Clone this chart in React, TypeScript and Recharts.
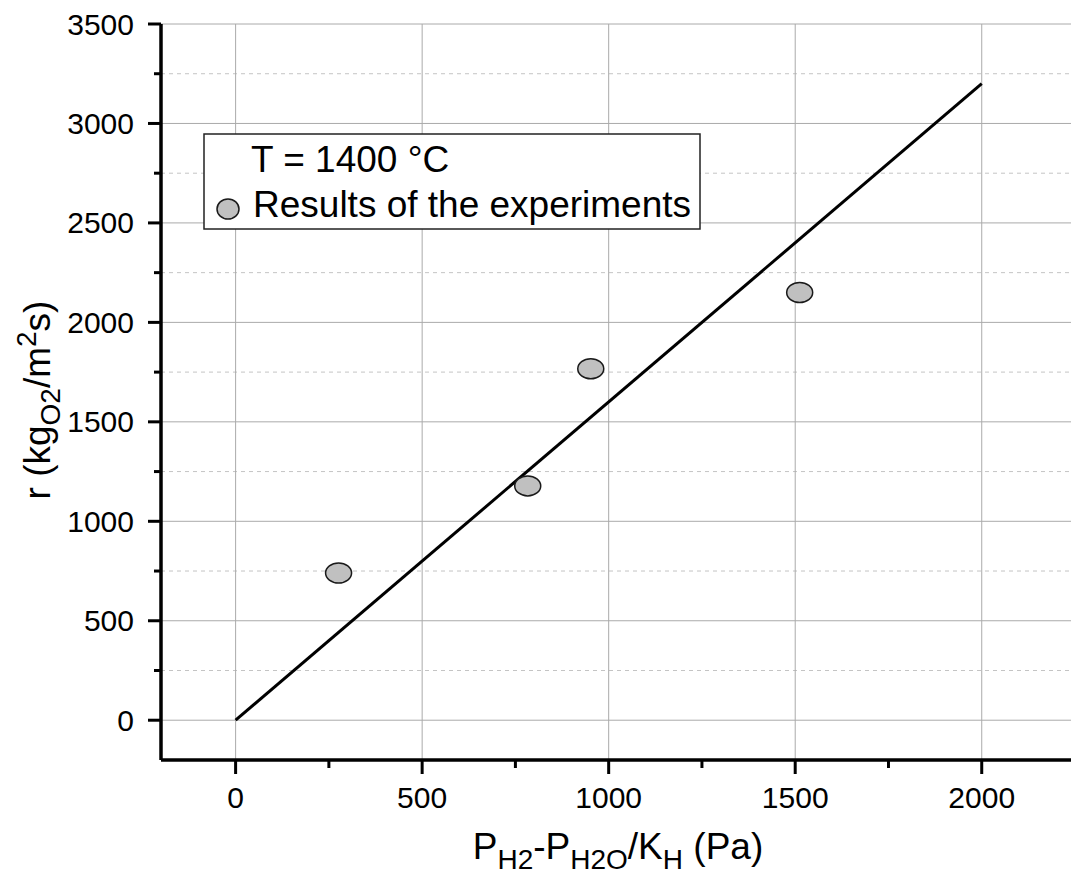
import React from 'react';
import { ComposedChart, XAxis, YAxis, Line, Scatter, ReferenceLine } from 'recharts';

// ---- data ----
const expX = [276, 783, 952, 1512];
const expY = [740, 1178, 1767, 2150];
const fitX = [0, 2000];
const fitY = [0, 3200];
const xMajorTicks = [0, 500, 1000, 1500, 2000];
const xMinorTicks = [250, 750, 1250, 1750];
const yMajorTicks = [0, 500, 1000, 1500, 2000, 2500, 3000, 3500];
const yMinorTicks = [250, 750, 1250, 1750, 2250, 2750, 3250];
const xDomain: [number, number] = [-200, 2250];
const yDomain: [number, number] = [-200, 3500];
const legendTitle = 'T = 1400 °C';
const legendSeries = 'Results of the experiments';

const points = expX.map((x, i) => ({ x, y: expY[i] }));
const fitLine = fitX.map((x, i) => ({ x, y: fitY[i] }));
const xTicks = [...xMajorTicks, ...xMinorTicks].sort((a, b) => a - b);
const yTicks = [...yMajorTicks, ...yMinorTicks].sort((a, b) => a - b);

const FONT = '"Liberation Sans", Arial, sans-serif';
const AXIS_W = 3.5;
const isMajor = (v: number) => v % 500 === 0;

const BottomTick = (p: any) => {
  const v = p.payload.value;
  const major = isMajor(v);
  return (
    <g>
      <line x1={p.x} x2={p.x} y1={p.y} y2={p.y + (major ? 14 : 8)} stroke="#000" strokeWidth={3} />
      {major && (
        <text x={p.x} y={p.y + 48} textAnchor="middle" fontSize={30} fontFamily={FONT} fill="#000">
          {v}
        </text>
      )}
    </g>
  );
};

const TopTick = (p: any) => {
  const major = isMajor(p.payload.value);
  return <line x1={p.x} x2={p.x} y1={p.y} y2={p.y + (major ? 14 : 7)} stroke="#000" strokeWidth={3} />;
};

const LeftTick = (p: any) => {
  const v = p.payload.value;
  const major = isMajor(v);
  return (
    <g>
      <line x1={p.x - (major ? 13 : 7)} x2={p.x} y1={p.y} y2={p.y} stroke="#000" strokeWidth={3} />
      {major && (
        <text x={p.x - 27} y={p.y + 10.5} textAnchor="end" fontSize={30} fontFamily={FONT} fill="#000">
          {v}
        </text>
      )}
    </g>
  );
};

const RightTick = (p: any) => {
  const major = isMajor(p.payload.value);
  return <line x1={p.x - (major ? 13 : 7)} x2={p.x} y1={p.y} y2={p.y} stroke="#000" strokeWidth={3} />;
};

const XTitle = (props: any) => {
  const vb = props.viewBox || { x: 161, y: 760, width: 913, height: 120 };
  const cx = vb.x + vb.width / 2;
  const by = vb.y + 99;
  return (
    <text x={cx} y={by} textAnchor="middle" fontSize={37} fontFamily={FONT} fill="#000">
      P<tspan fontSize={28} dy={10}>H2</tspan>
      <tspan dy={-10}>-P</tspan>
      <tspan fontSize={28} dy={10}>H2O</tspan>
      <tspan dy={-10}>/K</tspan>
      <tspan fontSize={28} dy={10}>H</tspan>
      <tspan dy={-10}>{' (Pa)'}</tspan>
    </text>
  );
};

const YTitle = (props: any) => {
  const vb = props.viewBox || { x: 0, y: 24, width: 161, height: 736 };
  const cx = vb.x + 50;
  const cy = vb.y + vb.height / 2 + 8;
  return (
    <text
      transform={`rotate(-90 ${cx} ${cy})`}
      x={cx}
      y={cy}
      textAnchor="middle"
      fontSize={37}
      fontFamily={FONT}
      fill="#000"
    >
      {'r (kg'}
      <tspan fontSize={28} dy={10}>O2</tspan>
      <tspan dy={-10}>/m</tspan>
      <tspan fontSize={28} dy={-14}>2</tspan>
      <tspan dy={14}>s)</tspan>
    </text>
  );
};

const EllipseDot = (p: any) => (
  <ellipse cx={p.cx} cy={p.cy} rx={13} ry={10} fill="#c0c0c0" stroke="#1a1a1a" strokeWidth={1.5} />
);

export default function App() {
  return (
    <div
      style={{
        position: 'absolute',
        left: 0,
        top: 0,
        width: 1071,
        height: 880,
        overflow: 'hidden',
        background: '#fff',
      }}
    >
      <ComposedChart width={1080} height={880} margin={{ top: 24, right: 5, bottom: 0, left: 0 }}>
        <XAxis
          xAxisId="b"
          dataKey="x"
          type="number"
          domain={xDomain}
          allowDataOverflow
          ticks={xTicks}
          interval={0}
          height={120}
          tickSize={0}
          tickMargin={0}
          tick={<BottomTick />}
          axisLine={{ stroke: '#000', strokeWidth: AXIS_W }}
          label={{ content: (p: any) => <XTitle {...p} /> }}
        />
        <XAxis
          xAxisId="t"
          orientation="top"
          dataKey="x"
          type="number"
          domain={xDomain}
          allowDataOverflow
          ticks={xTicks}
          interval={0}
          height={0}
          tickSize={0}
          tickMargin={0}
          tick={<TopTick />}
          axisLine={{ stroke: '#000', strokeWidth: AXIS_W }}
        />
        <YAxis
          yAxisId="l"
          type="number"
          domain={yDomain}
          allowDataOverflow
          ticks={yTicks}
          interval={0}
          width={161}
          tickSize={0}
          tickMargin={0}
          tick={<LeftTick />}
          axisLine={{ stroke: '#000', strokeWidth: AXIS_W }}
          label={{ content: (p: any) => <YTitle {...p} /> }}
        />
        <YAxis
          yAxisId="r"
          orientation="right"
          type="number"
          domain={yDomain}
          allowDataOverflow
          ticks={yTicks}
          interval={0}
          width={0}
          tickSize={0}
          tickMargin={0}
          tick={<RightTick />}
          axisLine={{ stroke: '#000', strokeWidth: AXIS_W }}
        />
        {yMinorTicks.map((v) => (
          <ReferenceLine
            key={'ym' + v}
            xAxisId="b"
            yAxisId="l"
            y={v}
            stroke="#c4c4c4"
            strokeWidth={1}
            strokeDasharray="4 4"
          />
        ))}
        {yMajorTicks.map((v) => (
          <ReferenceLine key={'yM' + v} xAxisId="b" yAxisId="l" y={v} stroke="#aaaaaa" strokeWidth={1} />
        ))}
        {xMajorTicks.map((v) => (
          <ReferenceLine key={'xM' + v} xAxisId="b" yAxisId="l" x={v} stroke="#aaaaaa" strokeWidth={1} />
        ))}
        <Line
          xAxisId="b"
          yAxisId="l"
          data={fitLine}
          dataKey="y"
          type="linear"
          stroke="#000"
          strokeWidth={3}
          dot={false}
          activeDot={false}
          isAnimationActive={false}
        />
        <Scatter
          xAxisId="b"
          yAxisId="l"
          data={points}
          dataKey="y"
          shape={<EllipseDot />}
          isAnimationActive={false}
        />
      </ComposedChart>
      <svg
        width={1071}
        height={880}
        style={{ position: 'absolute', left: 0, top: 0, pointerEvents: 'none' }}
      >
        <rect x={204} y={134} width={496} height={95} fill="#fff" stroke="#222" strokeWidth={1.5} />
        <text x={251} y={172} fontSize={37} fontFamily={FONT} fill="#000">
          {legendTitle}
        </text>
        <ellipse cx={228} cy={209} rx={11} ry={10} fill="#c0c0c0" stroke="#1a1a1a" strokeWidth={1.5} />
        <text x={253} y={217} fontSize={37} fontFamily={FONT} fill="#000">
          {legendSeries}
        </text>
      </svg>
    </div>
  );
}
